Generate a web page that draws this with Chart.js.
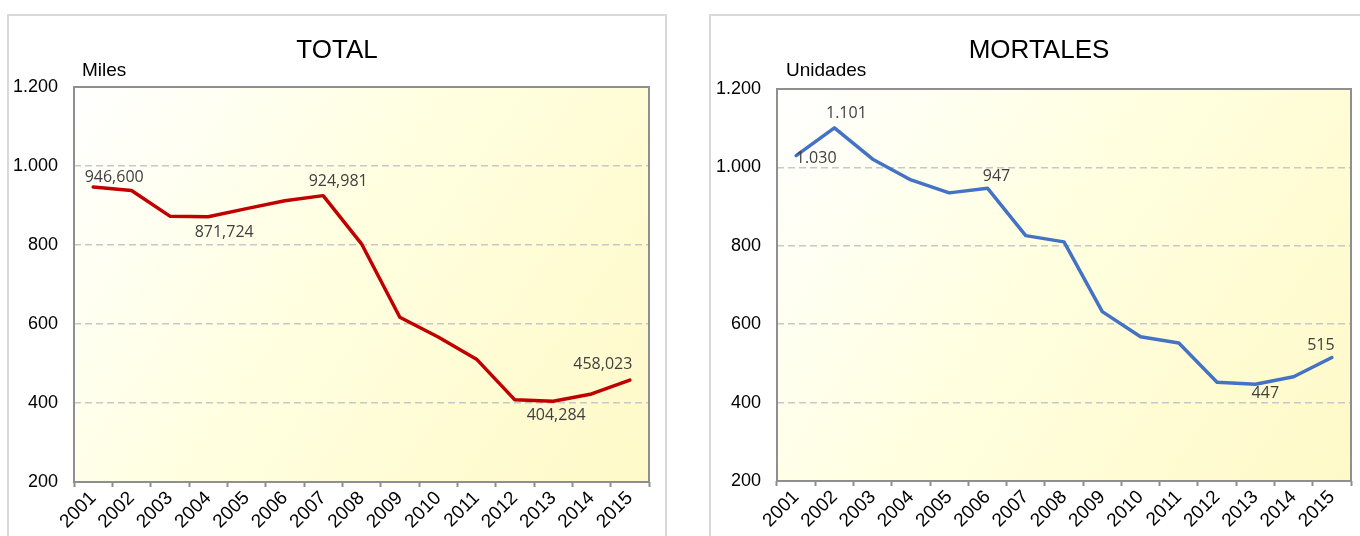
<!DOCTYPE html>
<html>
<head>
<meta charset="utf-8">
<script src="https://cdn.jsdelivr.net/npm/chart.js@4.4.0/dist/chart.umd.min.js"></script>
<style>
  html, body { margin: 0; padding: 0; background: #fff; overflow: hidden; }
  body { width: 1360px; height: 536px; position: relative; }
  .panel { position: absolute; top: 14px; height: 540px; border: 2px solid #d9d9d9; box-sizing: border-box; }
  canvas { position: absolute; top: 0; }
</style>
</head>
<body>
<div class="panel" style="left:7px; width:660px;"></div>
<div class="panel" style="left:709px; width:670px;"></div>
<canvas id="cTotal" width="680" height="536" style="left:0px"></canvas>
<canvas id="cMort" width="670" height="536" style="left:690px"></canvas>
<script>
// years on the x axis
var years = ["2001", "2002", "2003", "2004", "2005", "2006", "2007", "2008",
             "2009", "2010", "2011", "2012", "2013", "2014", "2015"];

// TOTAL, in thousands
var total = [946.600, 938, 873, 871.724, 892, 912, 924.981, 803,
             617, 567, 511, 408, 404.284, 423, 458.023];

// MORTALES, units
var mortales = [1030, 1101, 1021, 968, 935, 947, 826, 810,
                632, 568, 552, 452, 447, 466, 515];

// which points carry a value label
var totalLabelIdx = [0, 3, 6, 12, 14];
var mortLabelIdx = [0, 1, 5, 12, 14];

var yTicks = [200, 400, 600, 800, 1000, 1200];

function esThousands(v) {
  v = Math.round(v);
  if (v >= 1000) return Math.floor(v / 1000) + "." + String(v % 1000).padStart(3, "0");
  return String(v);
}
function esDecimal3(v) {
  return v.toFixed(3).replace(".", ",");
}

var chartDecor = {
  id: "chartDecor",
  beforeDraw: function (chart) {
    var a = chart.chartArea, ctx = chart.ctx;
    var g = ctx.createLinearGradient(a.left, a.top, a.right, a.bottom);
    g.addColorStop(0, "#ffffff");
    g.addColorStop(0.45, "#ffffe0");
    g.addColorStop(1, "#fff9c8");
    ctx.save();
    ctx.fillStyle = g;
    ctx.fillRect(a.left, a.top, a.right - a.left, a.bottom - a.top);
    ctx.restore();
  },
  beforeDatasetsDraw: function (chart) {
    var a = chart.chartArea, ctx = chart.ctx;
    ctx.save();
    ctx.strokeStyle = "#8f8f8f";
    ctx.lineWidth = 2;
    ctx.strokeRect(a.left, a.top, a.right - a.left, a.bottom - a.top);
    ctx.restore();
  },
  afterDatasetsDraw: function (chart, args, opts) {
    var ctx = chart.ctx;
    var meta = chart.getDatasetMeta(0);
    var data = chart.data.datasets[0].data;
    ctx.save();
    ctx.font = "16px 'Open Sans'";
    ctx.fillStyle = "#404040";
    ctx.textAlign = "center";
    ctx.textBaseline = "middle";
    opts.labels.forEach(function (l) {
      var p = meta.data[l.i];
      ctx.fillText(opts.format(data[l.i]), p.x + l.dx, p.y + l.dy);
    });
    ctx.restore();
  },
  afterDraw: function (chart, args, opts) {
    var ctx = chart.ctx;
    ctx.save();
    ctx.fillStyle = "#000";
    ctx.textBaseline = "alphabetic";
    ctx.font = "26px 'Liberation Sans', Arial";
    ctx.textAlign = "center";
    ctx.fillText(opts.title, opts.titleX, 58);
    ctx.font = "19px 'Liberation Sans', Arial";
    ctx.textAlign = "left";
    ctx.fillText(opts.unit, opts.unitX, 76);
    ctx.restore();
  }
};

function makeChart(id, values, color, cfg) {
  return new Chart(document.getElementById(id), {
    type: "line",
    data: {
      labels: years,
      datasets: [{
        data: values,
        borderColor: color,
        borderWidth: 3.5,
        pointRadius: 0,
        tension: 0,
        fill: false,
        borderJoinStyle: "round",
        borderCapStyle: "round"
      }]
    },
    options: {
      responsive: false,
      animation: false,
      layout: { padding: { top: cfg.top, right: cfg.right, bottom: 0, left: 0 } },
      plugins: {
        legend: { display: false },
        tooltip: { enabled: false },
        chartDecor: cfg.decor
      },
      scales: {
        x: {
          offset: true,
          afterFit: function (s) { s.height = cfg.xHeight; },
          grid: {
            offset: true,
            drawOnChartArea: false,
            drawTicks: true,
            tickLength: 5,
            tickColor: "#8f8f8f",
            tickWidth: 2
          },
          border: { display: false },
          ticks: {
            color: "#000",
            font: { family: "'Liberation Sans', Arial", size: 19 },
            minRotation: 45,
            maxRotation: 45,
            autoSkip: false,
            padding: 0
          }
        },
        y: {
          min: 200,
          max: 1200,
          afterFit: function (s) { s.width = cfg.yWidth; },
          afterBuildTicks: function (s) { s.ticks = yTicks.map(function (v) { return { value: v }; }); },
          grid: {
            drawTicks: false,
            lineWidth: 1.5,
            color: function (c) {
              var v = c.tick ? c.tick.value : 0;
              return (v === 200 || v === 1200) ? "rgba(0,0,0,0)" : "#c8c8c8";
            }
          },
          border: { display: false, dash: [7, 4] },
          ticks: {
            color: "#000",
            font: { family: "'Liberation Sans', Arial", size: 18 },
            padding: 16,
            callback: function (v) { return esThousands(v); }
          }
        }
      }
    },
    plugins: [chartDecor]
  });
}

makeChart("cTotal", total, "#c00000", {
  top: 87, right: 31, xHeight: 54, yWidth: 74,
  decor: {
    title: "TOTAL", titleX: 337, unit: "Miles", unitX: 82,
    format: esDecimal3,
    labels: [
      { i: totalLabelIdx[0], dx: 21, dy: -10 },
      { i: totalLabelIdx[1], dx: 16, dy: 16 },
      { i: totalLabelIdx[2], dx: 15, dy: -14 },
      { i: totalLabelIdx[3], dx: 3, dy: 14 },
      { i: totalLabelIdx[4], dx: -27, dy: -16 }
    ]
  }
});

makeChart("cMort", mortales, "#4472c4", {
  top: 89, right: 9, xHeight: 55, yWidth: 87,
  decor: {
    title: "MORTALES", titleX: 349, unit: "Unidades", unitX: 96,
    format: esThousands,
    labels: [
      { i: mortLabelIdx[0], dx: 20, dy: 3 },
      { i: mortLabelIdx[1], dx: 12, dy: -14 },
      { i: mortLabelIdx[2], dx: 9, dy: -12 },
      { i: mortLabelIdx[3], dx: 10, dy: 9 },
      { i: mortLabelIdx[4], dx: -11, dy: -12 }
    ]
  }
});
</script>
</body>
</html>
